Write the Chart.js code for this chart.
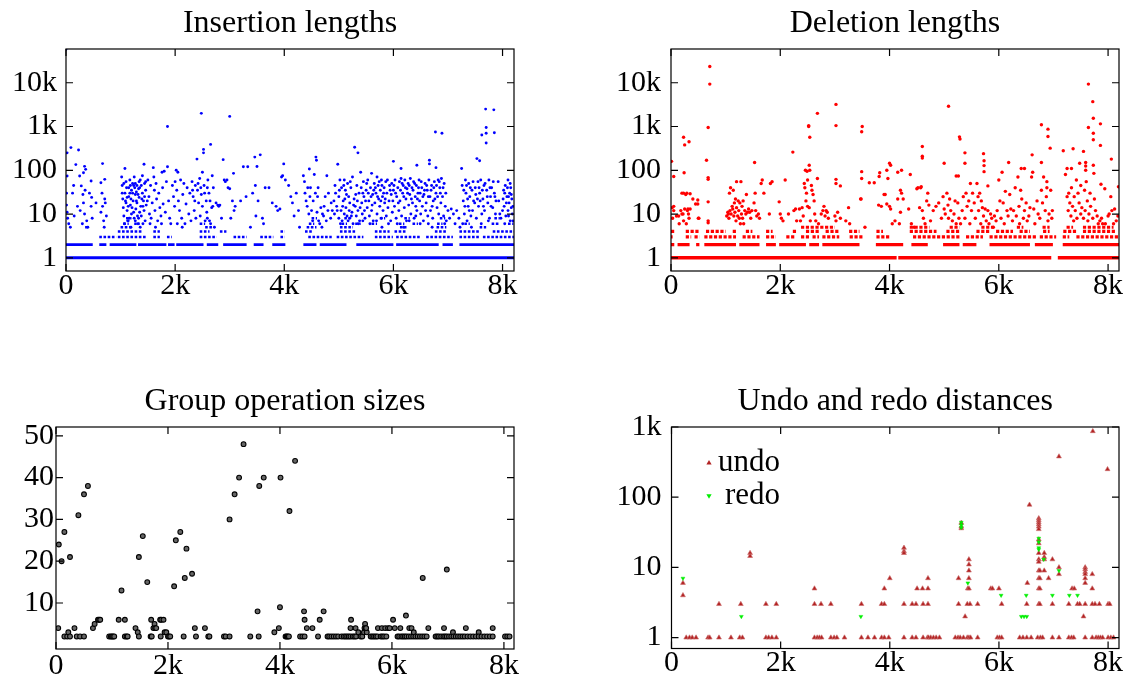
<!DOCTYPE html>
<html>
<head>
<meta charset="utf-8">
<script src="https://cdn.jsdelivr.net/npm/chart.js@4.4.1/dist/chart.umd.min.js"></script>
<style>
  body { margin: 0; background: #fff; width: 1129px; height: 678px; overflow: hidden; position: relative; }
  .box { position: absolute; }
</style>
</head>
<body>
<div class="box" style="left:0;top:0;width:560px;height:320px"><canvas id="ins"></canvas></div>
<div class="box" style="left:600px;top:0;width:529px;height:320px"><canvas id="del"></canvas></div>
<div class="box" style="left:0;top:378px;width:560px;height:300px"><canvas id="grp"></canvas></div>
<div class="box" style="left:600px;top:378px;width:529px;height:300px"><canvas id="undo"></canvas></div>
<script>
const SERIF = "'Liberation Serif', 'Times New Roman', serif";

// x axis is in thousands of operations
const xTickValues = [0, 2, 4, 6, 8];
const xTickLabels = ['0', '2k', '4k', '6k', '8k'];
const lenTickValues = [1, 10, 100, 1000, 10000];
const lenTickLabels = ['1', '10', '100', '1k', '10k'];
const groupTickValues = [10, 20, 30, 40, 50];
const distTickValues = [1, 10, 100, 1000];
const distTickLabels = ['1', '10', '100', '1k'];

// dense rows of small values, as [from, to] ranges
const insRowLevels = [1, 2, 3, 4, 5, 6, 8];
const insRowSpans = [
  [[0, 8.21]],
  [[0,0.49],[0.61,0.74],[0.8,1.29],[1.32,1.84],[1.87,1.99],[2.02,2.52],[2.58,2.79],[2.88,3.31],[3.44,3.62],[3.78,4.02],[4.35,4.59],[4.65,5.14],[5.32,6.0],[6.05,6.83],[6.9,7.09],[7.21,8.21]],
  [[0.61,0.92],[0.95,1.47],[1.6,1.72],[1.85,1.94],[2.45,2.76],[3.07,3.31],[3.56,3.8],[3.93,4.01],[4.44,4.87],[4.96,5.45],[5.66,5.99],[6.05,6.51],[6.6,7.09],[7.21,7.58],[7.64,8.21]],
  [[0.95,1.41],[1.6,1.72],[2.45,2.63],[2.82,2.94],[3.93,4.01],[4.38,4.53],[5.02,5.32],[5.66,5.93],[6.02,6.24],[6.76,6.97],[7.21,7.58],[7.82,8.21]],
  [[0.35,0.4],[1.0,1.2],[2.55,2.7],[4.41,4.59],[5.02,5.26],[6.12,6.24],[6.79,6.97],[7.58,7.7]],
  [[1.05,1.15],[1.25,1.35],[2.45,2.55],[4.45,4.55],[5.05,5.15],[5.3,5.4],[5.6,5.7],[6.1,6.2],[6.35,6.45],[6.8,6.9],[7.3,7.4],[7.8,7.95],[8.1,8.2]],
  [[1.1,1.2],[4.5,4.6],[5.1,5.2],[5.75,5.85],[6.2,6.3],[6.85,6.95],[7.85,7.95]]
];
const insPoints = [
  [0,58000],[0.02,250],[0.09,330],[0.23,290],[0.18,135],[0.02,74],[0.01,30],[0.01,16],[0.02,11],[0.03,8],[0.05,6],[0.12,30],[0.15,9],[0.21,15],[0.25,74],[0.28,44],[0.32,88],[0.34,123],[0.36,105],[0.31,28],[0.32,18],[0.34,10],[0.3,6],[0.38,7],[0.4,5],[0.46,57],[0.47,24],[0.46,15],[0.48,8],[0.55,18],[0.64,52],[0.67,142],[0.71,62],[0.71,22],[0.67,15],[0.64,11],[0.74,9],[0.69,7],[0.7,5],[0.66,30],[0.72,18],[0.08,5],[0.14,45],[0.26,12],[0.35,35],[0.43,30],
  [1.02,70],[1.03,45],[1.04,22],[1.05,14],[1.06,9],[1.08,110],[1.08,30],[1.1,55],[1.1,18],[1.12,12],[1.13,7],[1.15,40],[1.15,25],[1.17,60],[1.18,16],[1.2,10],[1.2,35],[1.22,50],[1.23,20],[1.25,8],[1.25,70],[1.27,28],[1.28,13],[1.3,45],[1.3,18],[1.32,6],[1.33,38],[1.34,24],[1.35,11],[1.36,60],[1.37,15],[1.38,9],[1.4,30],[1.4,75],[1.42,20],[1.43,12],[1.43,137],[1.44,50],[1.45,7],[1.46,35],[1.47,16],[1.12,24],[1.18,45],[1.26,40],[1.31,9],[1.39,22],[1.21,14],[1.16,8],[1.34,55],[1.29,32],[1.24,11],[1.07,6],[1.14,7],[1.19,5],[1.27,7],[1.33,8],[1.41,6],[1.36,5],
  [1.03,30],[1.06,50],[1.09,20],[1.11,40],[1.14,15],[1.17,30],[1.19,22],[1.22,30],[1.24,45],[1.27,50],[1.29,20],[1.32,28],[1.35,40],[1.38,45],[1.41,15],[1.44,25],[1.46,55],[1.49,20],
  [1.5,60],[1.52,25],[1.53,10],[1.55,45],[1.56,8],[1.58,18],[1.6,115],[1.61,70],[1.62,35],[1.63,12],[1.65,50],[1.66,22],[1.68,7],[1.7,30],[1.72,14],[1.74,9],[1.76,90],[1.77,40],[1.78,17],[1.8,95],[1.82,11],[1.84,55],[1.54,6],[1.64,5],[1.75,6],
  [1.86,1000],[1.86,120],[1.88,20],[1.9,8],[1.92,6],[1.95,45],[1.97,25],[1.99,15],[2.0,55],[2.02,100],[2.03,35],[2.05,90],[2.06,20],[2.08,12],[2.1,60],[2.12,8],[2.14,28],[2.16,50],[2.18,6],[2.2,17],[2.22,40],[2.25,10],[2.27,30],[2.29,7],[2.04,6],[2.13,5],
  [2.31,55],[2.33,25],[2.35,12],[2.37,45],[2.38,8],[2.4,180],[2.41,35],[2.43,18],[2.45,65],[2.46,9],[2.48,2000],[2.48,28],[2.5,90],[2.5,15],[2.52,300],[2.52,250],[2.53,45],[2.55,7],[2.57,20],[2.58,11],[2.6,60],[2.62,30],[2.65,390],[2.65,6],[2.67,14],[2.68,75],[2.59,8],[2.63,7],
  [2.32,35],[2.36,20],[2.42,50],[2.47,40],[2.54,30],[2.59,40],[2.64,20],[2.69,15],
  [2.7,40],[2.72,5],[2.75,18],[2.78,16],[2.8,15],[2.82,16],[2.85,8],[2.88,175],[2.9,60],[2.92,55],[2.95,60],[2.97,40],[3.0,1700],[3.0,38],[3.02,8],[3.05,20],[3.07,85],[3.08,12],[3.1,15],
  [3.2,20],[3.25,120],[3.3,25],[3.33,120],[3.38,5],[3.42,30],[3.46,200],[3.47,45],[3.48,9],[3.5,122],[3.52,20],[3.56,225],[3.6,8],[3.62,6],
  [3.65,40],[3.72,40],[3.78,18],[3.85,15],[3.88,12],[3.92,13],[3.95,70],[3.97,75],[3.99,140],[4.02,60],[4.08,45],[4.12,25],[4.15,18],[4.18,9],[4.22,30],[4.26,12],[4.28,5],
  [4.35,75],[4.37,55],[4.4,20],[4.42,15],[4.45,10],[4.46,107],[4.48,40],[4.5,12],[4.52,7],[4.55,80],[4.57,30],[4.58,200],[4.59,170],[4.6,11],[4.62,40],[4.65,6],[4.67,14],[4.7,10],[4.72,9],[4.75,25],[4.78,75],[4.8,12],[4.85,8],[4.88,12],[4.63,7],[4.69,5],[4.77,7],
  [4.38,30],[4.43,40],[4.47,25],[4.53,20],[4.61,25],[4.73,15],[4.81,30],[4.86,18],
  [4.92,10],[4.94,30],[4.96,15],[4.98,137],[5.0,25],[5.0,8],[5.02,60],[5.04,12],[5.05,40],[5.06,7],[5.08,20],[5.1,60],[5.1,10],[5.12,35],[5.13,14],[5.15,9],[5.16,50],[5.18,25],[5.2,8],[5.2,18],[5.22,40],[5.24,11],[5.25,70],[5.26,6],[5.28,22],[5.29,335],[5.3,15],[5.32,9],[5.33,45],[5.35,250],[5.35,12],[5.37,30],[5.38,7],[5.4,90],[5.42,18],[5.43,10],[5.45,55],[5.46,25],[5.48,8],[5.5,35],[5.03,6],[5.17,7],[5.23,9],[5.36,6],[5.44,7],
  [4.91,20],[4.93,45],[4.97,12],[5.01,35],[5.07,15],[5.09,45],[5.11,22],[5.14,28],[5.19,12],[5.21,55],[5.27,16],[5.31,28],[5.34,20],[5.39,14],[5.41,40],[5.44,30],[5.47,12],[5.49,20],
  [5.52,14],[5.53,60],[5.55,20],[5.56,9],[5.58,40],[5.6,12],[5.6,85],[5.62,28],[5.63,7],[5.65,50],[5.66,18],[5.68,30],[5.7,10],[5.7,70],[5.72,45],[5.73,22],[5.75,15],[5.76,35],[5.78,60],[5.78,8],[5.8,25],[5.81,12],[5.83,40],[5.84,18],[5.86,55],[5.87,9],[5.88,30],[5.9,14],[5.92,20],[5.93,45],[5.95,7],[5.96,28],[5.98,11],[5.57,6],[5.69,7],[5.79,5],[5.91,6],
  [5.51,50],[5.54,30],[5.59,25],[5.61,16],[5.64,35],[5.67,40],[5.71,25],[5.74,55],[5.77,20],[5.79,45],[5.82,30],[5.85,22],[5.89,60],[5.94,35],[5.97,50],[5.99,20],
  [6.0,160],[6.0,35],[6.02,15],[6.03,60],[6.05,8],[6.06,25],[6.08,40],[6.1,12],[6.11,55],[6.12,20],[6.14,110],[6.14,65],[6.15,9],[6.17,30],[6.18,45],[6.2,14],[6.21,60],[6.23,22],[6.24,7],[6.25,38],[6.27,50],[6.28,16],[6.3,28],[6.31,65],[6.32,10],[6.34,40],[6.35,18],[6.37,55],[6.38,8],[6.4,25],[6.42,45],[6.43,130],[6.43,12],[6.45,30],[6.47,60],[6.48,20],[6.5,10],[6.52,40],[6.53,15],[6.55,7],[6.56,28],[6.58,50],[6.07,6],[6.19,5],[6.29,7],[6.41,9],[6.49,6],
  [6.01,45],[6.04,30],[6.09,18],[6.13,35],[6.16,50],[6.19,25],[6.22,40],[6.26,30],[6.29,45],[6.33,22],[6.36,35],[6.39,50],[6.41,15],[6.44,22],[6.46,40],[6.49,30],[6.51,55],[6.54,25],[6.57,35],[6.59,12],
  [6.6,18],[6.62,35],[6.63,9],[6.65,60],[6.66,170],[6.66,140],[6.67,25],[6.68,12],[6.7,45],[6.72,8],[6.73,20],[6.75,55],[6.77,750],[6.78,115],[6.78,30],[6.8,14],[6.82,60],[6.83,10],[6.85,40],[6.87,18],[6.88,65],[6.89,700],[6.9,25],[6.92,9],[6.93,50],[6.95,15],[6.97,7],[6.64,6],[6.71,5],[6.94,6],
  [6.61,45],[6.64,25],[6.69,35],[6.71,15],[6.74,40],[6.76,22],[6.79,45],[6.81,25],[6.84,55],[6.86,30],[6.91,40],[6.96,30],
  [7.0,12],[7.03,8],[7.06,13],[7.1,10],[7.13,6],[7.16,12],[7.2,8],[7.22,5],
  [7.25,110],[7.26,45],[7.28,20],[7.3,10],[7.32,60],[7.33,30],[7.35,7],[7.37,15],[7.38,50],[7.4,25],[7.42,9],[7.44,35],[7.45,12],[7.47,20],[7.5,40],[7.52,8],[7.53,185],[7.55,55],[7.56,15],[7.58,165],[7.58,30],[7.6,60],[7.62,640],[7.62,10],[7.64,22],[7.66,45],[7.67,12],[7.69,2500],[7.7,950],[7.7,700],[7.7,420],[7.71,35],[7.73,18],[7.75,60],[7.76,8],[7.78,25],[7.8,40],[7.82,14],[7.84,2400],[7.85,720],[7.85,30],[7.87,10],[7.88,20],[7.27,6],[7.43,5],[7.61,6],[7.74,7],
  [7.29,35],[7.31,15],[7.34,45],[7.36,22],[7.39,12],[7.41,40],[7.46,55],[7.49,18],[7.51,28],[7.54,22],[7.57,40],[7.59,20],[7.63,35],[7.65,15],[7.68,50],[7.72,25],[7.77,40],[7.79,15],[7.83,55],[7.86,25],
  [7.92,55],[7.93,20],[7.95,10],[7.97,8],[8.0,12],[8.02,35],[8.03,15],[8.05,45],[8.06,9],[8.08,25],[8.1,60],[8.1,12],[8.12,18],[8.13,30],[8.14,7],[8.15,40],[8.16,14],[8.17,22],[8.18,10],[8.04,6],[8.11,9],[8.19,7],
  [8.01,22],[8.04,30],[8.07,18],[8.09,40],[8.11,25],[8.14,50],[8.16,28],[8.19,15]
];

const delRowLevels = [1, 2, 3, 4, 5];
const delRowSpans = [
  [[0,4.13],[4.16,6.96],[7.08,8.2]],
  [[0,0.06],[0.12,0.34],[0.46,0.52],[0.61,1.19],[1.25,1.62],[1.74,1.92],[1.98,2.47],[2.53,2.71],[2.77,3.45],[3.75,4.25],[4.4,4.7],[4.98,5.28],[5.34,5.59],[5.83,6.57],[6.66,6.99],[7.17,8.2]],
  [[0,0.03],[0.27,0.37],[0.43,0.52],[0.61,1.19],[1.31,1.62],[1.74,1.92],[2.11,2.26],[2.38,2.53],[2.59,2.71],[2.77,3.08],[3.27,3.51],[3.76,4.0],[4.43,5.28],[5.4,5.71],[5.83,6.69],[6.75,7.05],[7.17,7.29],[7.42,8.2]],
  [[0,0.06],[0.27,0.52],[0.64,1.0],[1.13,1.19],[1.37,1.49],[1.74,1.86],[2.23,2.29],[2.47,2.71],[2.83,3.08],[3.26,3.45],[3.76,3.88],[4.37,4.86],[5.04,5.28],[5.59,5.83],[5.95,6.26],[6.38,6.57],[6.81,6.93],[7.18,7.42],[7.54,8.15]],
  [[2.38,3.0],[4.37,4.73],[5.1,5.28],[5.68,5.9],[6.33,6.45],[6.8,6.93],[7.24,7.36],[7.54,8.1]]
];
const delPoints = [
  [0.71,23500],[0.71,9300],[0.68,950],[0.65,170],[0.68,68],[0.68,62],[0.68,19],[0.68,7],[0.68,6.3],[0.23,570],[0.25,380],[0.33,450],[0.24,88],[0.01,160],[0.05,72],[0.05,15],[0.03,8],[0.23,30],[0.29,30],[0.35,29],[0.31,13],[0.35,13],[0.32,10],[0.49,21],[0.49,17],[0.23,7],[0.2,10],[0.14,9],[0.51,8],
  [1.53,150],[2.23,260],[2.09,60],[1.65,50],[1.67,60],[1.54,30],[2.52,1050],[2.52,1000],[2.54,570],[2.68,2000],[2.53,130],[2.54,100],[2.46,100],[2.49,95],[2.68,65],
  [3.02,3200],[3.02,1050],[3.02,62],[3.02,50],[3.1,44],[3.5,1000],[3.49,760],[3.49,93],[3.49,65],[3.47,22],[3.63,52],[3.72,52],[3.82,88],[3.81,72],[3.92,28],[3.95,100],[3.97,65],[4.0,145],[4.02,130],[4.15,90],[4.22,100],[4.2,35],[4.38,80],[4.6,350],[4.6,210],[4.6,190],[4.57,40],
  [5.0,145],[5.08,2900],[5.28,580],[5.29,520],[5.22,74],[5.26,74],[5.38,250],[5.38,145],[5.72,240],[5.73,165],[5.73,128],[5.73,93],[5.8,44],[6.18,150],[6.41,110],[6.47,110],[6.61,225],[6.78,1100],[6.9,870],[6.9,590],[6.94,320],[6.78,150],[6.88,55],
  [7.18,280],[7.36,310],[7.55,270],[7.25,110],[7.33,110],[7.64,9300],[7.72,3700],[7.73,1550],[7.64,950],[7.73,700],[7.73,500],[7.86,1150],[7.86,370],[7.73,130],[7.74,85],[8.06,180],[8.19,42],[7.94,38],[7.87,48],[7.59,150],[7.59,125],[7.59,100],[7.48,145],
  [0.02,14],[0.05,12],[0.1,9],[0.15,6],[0.18,12],[0.22,10],[0.25,13],[0.28,6],[0.3,12],[0.33,8],[0.4,22],[0.45,17],[0.5,8],[0.2,30],[0.27,28],
  [1.02,9],[1.04,11],[1.05,10],[1.06,8],[1.07,30],[1.08,12],[1.09,40],[1.1,10],[1.12,15],[1.13,13],[1.14,35],[1.15,9],[1.16,18],[1.17,11],[1.18,22],[1.19,7],[1.2,14],[1.2,55],[1.22,9],[1.23,20],[1.24,12],[1.25,8],[1.26,18],[1.27,6],[1.28,55],[1.29,10],[1.3,15],[1.31,8],[1.32,20],[1.33,6],[1.35,12],[1.37,10],[1.38,28],[1.4,11],[1.42,13],[1.44,11],[1.46,8],[1.48,12],
  [1.52,18],[1.55,12],[1.57,9],[1.6,10],[1.62,8],[1.7,30],[1.8,10],[1.82,50],[1.85,55],[1.98,19],[2.0,10],[2.02,8],[2.05,7],[2.15,10],[2.25,12],[2.28,13],[2.3,7],[2.35,13],[2.37,7],
  [2.4,14],[2.42,9],[2.44,50],[2.45,40],[2.47,20],[2.48,30],[2.5,15],[2.5,60],[2.53,14],[2.55,7],[2.57,45],[2.58,35],[2.6,28],[2.62,20],[2.63,10],[2.65,7],[2.7,6],[2.75,10],[2.78,12],[2.8,15],[2.82,9],[2.84,12],[2.86,11],[2.88,8],[3.0,9],[3.02,7],[3.05,11],[3.1,8],[3.2,7],[3.25,14],[3.27,6],
  [3.48,22],[3.55,5],[3.8,16],[3.85,15],[3.9,28],[3.95,17],[4.0,15],[4.02,13],[4.05,6],[4.1,7],[4.15,22],[4.18,6],[4.2,11],[4.22,30],[4.25,22],[4.35,13],[4.4,6],
  [4.45,5],[4.5,38],[4.52,40],[4.55,14],[4.58,42],[4.6,12],[4.62,8],[4.65,6],[4.68,20],[4.7,30],[4.72,16],[4.75,7],[4.8,12],[4.85,15],[4.9,18],[4.95,8],[4.98,25],
  [5.0,13],[5.02,10],[5.05,30],[5.07,16],[5.08,8],[5.1,22],[5.12,12],[5.15,7],[5.18,10],[5.2,20],[5.22,6],[5.25,18],[5.27,8],[5.3,6],[5.33,12],[5.35,25],[5.38,8],[5.4,30],[5.42,15],[5.45,20],[5.47,6],[5.48,50],[5.5,12],
  [5.52,30],[5.55,18],[5.57,8],[5.6,50],[5.62,25],[5.63,12],[5.65,30],[5.67,6],[5.68,20],[5.7,14],[5.72,9],[5.75,13],[5.77,7],[5.8,12],[5.82,6],[5.85,10],[5.87,8],[5.9,5],[5.92,9],[5.95,7],[5.97,12],
  [6.0,60],[6.02,20],[6.04,8],[6.06,90],[6.08,18],[6.1,6],[6.12,33],[6.15,12],[6.17,9],[6.2,28],[6.22,13],[6.25,7],[6.27,12],[6.3,40],[6.32,9],[6.35,70],[6.37,15],[6.38,6],[6.4,35],[6.42,22],[6.45,8],[6.47,12],[6.5,18],[6.52,7],[6.55,9],[6.57,14],[6.6,70],
  [6.62,90],[6.64,13],[6.66,6],[6.7,20],[6.72,10],[6.75,8],[6.78,35],[6.8,18],[6.82,70],[6.85,12],[6.87,25],[6.88,40],[6.9,7],[6.92,10],[6.95,35],[6.97,8],[6.98,12],
  [7.22,80],[7.25,25],[7.27,12],[7.28,30],[7.3,18],[7.32,9],[7.33,40],[7.35,15],[7.37,7],[7.38,25],[7.4,12],[7.42,60],[7.43,8],[7.45,30],[7.47,18],[7.5,10],[7.5,45],[7.52,14],[7.55,8],[7.57,35],[7.58,12],[7.6,55],[7.62,20],[7.63,7],[7.65,10],[7.67,30],[7.68,15],
  [7.72,8],[7.75,22],[7.77,12],[7.8,9],[7.82,6],[7.85,7],[7.88,8],[7.9,6],[7.95,6],[8.0,9],[8.02,10],[8.05,25],[8.07,12],[8.1,6],[8.12,13],[8.15,7],[8.18,9]
];

const groupPoints = [
  [0.04,4],[0.05,24],[0.1,20],[0.15,27],[0.25,21],[0.15,2],[0.2,2],[0.22,3],[0.25,2],[0.33,4],[0.37,2],[0.4,31],[0.43,2],[0.5,36],[0.5,2],[0.57,38],[0.66,4],[0.69,5],[0.75,6],[0.77,6],[0.79,6],
  [0.95,2],[0.98,2],[1.0,2],[1.02,2],[1.04,2],[1.12,6],[1.17,13],[1.23,6],[1.23,2],[1.26,2],[1.28,2],[1.42,4],[1.46,3],[1.48,21],[1.48,2],[1.55,26],[1.63,15],[1.69,2],[1.71,2],[1.7,6],[1.74,4],[1.76,5],[1.77,4],[1.79,4],[1.86,6],[1.88,6],[1.92,6],[1.87,2],[1.94,3],[1.97,3],
  [2.0,2],[2.02,2],[2.04,2],[2.11,14],[2.14,25],[2.22,27],[2.28,2],[2.3,16],[2.33,23],[2.43,17],[2.48,4],[2.5,2],[2.66,4],[2.72,2],[2.74,2],[3.0,2],[3.03,2],[3.1,2],[3.1,30],[3.19,36],[3.27,40],[3.35,48],[3.47,2],[3.6,8],[3.62,2],[3.63,38],[3.71,40],[3.9,3],[3.98,4],
  [4.0,9],[4.01,40],[4.1,2],[4.12,2],[4.14,2],[4.16,2],[4.17,32],[4.27,44],[4.36,2],[4.4,2],[4.44,2],[4.43,8],[4.44,6],[4.48,4],[4.58,4],[4.68,2],[4.71,6],[4.78,8],[4.85,2],[4.88,2],[4.92,2],[4.96,2],
  [5.0,2],[5.04,2],[5.1,2],[5.14,2],[5.17,2],[5.2,2],[5.23,2],[5.26,4],[5.27,6],[5.26,2],[5.3,2],[5.33,2],[5.35,4],[5.36,2],[5.4,3],[5.44,2],[5.47,2],[5.5,3],[5.51,4],[5.52,5],[5.53,4],[5.55,3],[5.54,4],[5.62,2],[5.65,2],[5.68,2],[5.71,2],[5.74,2],[5.75,4],[5.8,2],[5.82,4],[5.83,2],[5.86,2],[5.88,4],[5.9,2],[5.93,4],[5.96,4],
  [6.02,6],[6.05,4],[6.1,2],[6.13,2],[6.15,4],[6.17,2],[6.2,2],[6.23,2],[6.25,7],[6.26,2],[6.3,2],[6.31,4],[6.34,2],[6.35,4],[6.38,2],[6.39,3],[6.42,2],[6.46,2],[6.5,2],[6.54,2],[6.55,16],[6.58,2],[6.62,2],[6.65,4],[6.78,2],[6.81,2],[6.84,2],[6.88,2],[6.92,2],[6.93,4],[6.95,2],[6.98,18],[6.98,2],
  [7.02,2],[7.06,2],[7.09,3],[7.1,2],[7.14,2],[7.18,2],[7.22,2],[7.26,2],[7.3,2],[7.32,4],[7.35,2],[7.4,2],[7.45,2],[7.5,2],[7.55,3],[7.55,2],[7.6,2],[7.65,2],[7.7,2],[7.75,2],[7.8,4],[7.8,2],[8.02,2],[8.06,2],[8.1,2]
];

const undoPoints = [
  [0.21,6],[0.21,4],[0.27,1],[0.33,1],[0.38,1],[0.45,1],[0.67,1],[0.7,1],[0.87,3],[0.87,1],[1.09,1],[1.27,3],[1.25,1],[1.3,1],[1.44,16],[1.44,14.5],[1.73,3],[1.73,1],[1.78,1],[1.84,1],[1.92,3],[1.92,1],
  [2.62,5],[2.62,3],[2.62,1],[2.67,1],[2.71,1],[2.75,1],[2.74,3],[2.92,3],[2.92,1],[2.98,1],[3.03,1],[3.17,1],[3.48,3],[3.48,1],[3.6,1],[3.72,1],[3.85,3],[3.9,3],[3.85,1],[3.9,1],[3.9,5],[3.98,1],[4.0,7],
  [4.26,19],[4.26,17],[4.26,16],[4.26,3],[4.26,1],[4.41,3],[4.48,3],[4.41,1],[4.48,1],[4.5,5],[4.6,5],[4.61,3],[4.61,1],[4.69,1],[4.7,7],[4.7,5],[4.7,3],[4.71,1],[4.75,1],[4.8,1],[4.85,1],[4.91,1],
  [5.2,1],[5.25,1],[5.29,1],[5.26,7],[5.26,3],[5.31,43],[5.31,38],[5.31,36],[5.35,1],[5.38,2],[5.43,5],[5.45,5],[5.45,13],[5.45,11],[5.45,9],[5.45,7],[5.42,3],[5.47,3],[5.42,1],[5.45,1],[5.48,1],[5.61,3],[5.61,1],[5.85,5],[5.88,5],
  [6.0,5],[5.97,1],[6.01,1],[6.05,1],[6.05,3],[6.38,1],[6.44,1],[6.51,1],[6.51,3],[6.52,6],[6.56,78],[6.59,1],
  [6.73,50],[6.73,47],[6.73,44],[6.73,41],[6.73,38],[6.73,35],[6.73,25],[6.73,22],[6.73,16],[6.73,13],[6.73,12],[6.73,9],[6.73,7],[6.73,5],[6.73,3],[6.71,1],[6.76,1],[6.75,9],[6.75,7],[6.75,5],[6.75,3],[6.83,16],[6.83,14],[6.83,13],[6.83,9],[6.8,1],[6.91,7],[6.98,13],[6.98,3],[6.98,1],
  [7.1,380],[7.1,10],[7.1,8],[7.1,1],[7.28,3],[7.34,5],[7.38,5],[7.28,1],[7.33,1],[7.37,1],[7.44,3],[7.48,3],[7.55,2],[7.58,10],[7.58,9.4],[7.58,8.6],[7.58,8],[7.58,7],[7.58,6],[7.58,3],[7.58,1],
  [7.71,8],[7.71,5],[7.71,3],[7.71,1],[7.72,870],[7.76,3],[7.78,1],[7.82,1],[7.84,3],[7.86,1],[7.9,1],[7.99,250],[8.0,3],[8.03,3],[8.0,1],[8.05,1],[8.1,1]
];
const redoPoints = [
  [0.21,7],[1.28,2],[3.47,2],[5.31,44],[5.31,40],[5.31,37],[5.43,6],[6.04,4],[6.41,2],[6.46,2],[6.51,2],[6.5,4],[6.73,26],[6.73,23],[6.73,19],[6.73,18],[6.82,13],[6.98,4],[7.1,9],[7.29,4],[7.44,4]
];

const toXY = pts => pts.map(p => ({ x: p[0], y: p[1] }));

function spanData(spans, level) {
  const out = [];
  spans.forEach(s => {
    out.push({ x: s[0], y: level }, { x: s[1], y: level }, { x: s[1], y: null });
  });
  return out;
}

function rowSets(levels, spans, color, width) {
  return levels.map((lv, i) => ({
    data: spanData(spans[i], lv),
    showLine: true,
    spanGaps: false,
    borderColor: color,
    borderWidth: i === 0 ? width + 0.4 : width,
    borderDash: i < 2 ? [] : [width, 1.6],
    pointRadius: 0,
    order: 2
  }));
}

// gnuplot style frame with inward ticks on all four sides
const frameTicks = {
  id: 'frameTicks',
  afterDatasetsDraw(chart) {
    const { ctx, chartArea: a, scales } = chart;
    const len = 7;
    ctx.save();
    ctx.strokeStyle = '#000';
    ctx.lineWidth = 1.2;
    ctx.beginPath();
    scales.x.ticks.forEach(t => {
      const px = scales.x.getPixelForValue(t.value);
      ctx.moveTo(px, a.bottom); ctx.lineTo(px, a.bottom - len);
      ctx.moveTo(px, a.top); ctx.lineTo(px, a.top + len);
    });
    scales.y.ticks.forEach(t => {
      const py = scales.y.getPixelForValue(t.value);
      ctx.moveTo(a.left, py); ctx.lineTo(a.left + len, py);
      ctx.moveTo(a.right, py); ctx.lineTo(a.right - len, py);
    });
    ctx.stroke();
    ctx.strokeRect(a.left, a.top, a.right - a.left, a.bottom - a.top);
    ctx.restore();
  }
};

function triangle(ctx, x, y, r, down) {
  const s = down ? -1 : 1;
  ctx.beginPath();
  ctx.moveTo(x, y - s * r);
  ctx.lineTo(x - r * 0.87, y + s * r * 0.5);
  ctx.lineTo(x + r * 0.87, y + s * r * 0.5);
  ctx.closePath();
  ctx.fill();
}

const undoLegend = {
  id: 'undoLegend',
  afterDraw(chart) {
    const { ctx, chartArea: a } = chart;
    ctx.save();
    ctx.font = '31px ' + SERIF;
    ctx.textAlign = 'right';
    ctx.textBaseline = 'alphabetic';
    chart.data.datasets.forEach((ds, i) => {
      const my = a.top + 36 + i * 32.7;
      ctx.fillStyle = ds.backgroundColor;
      triangle(ctx, a.left + 37.5, my, 3, ds.rotation === 180);
      ctx.fillStyle = '#000';
      ctx.fillText(ds.label, a.left + 108.5, my + 8.3);
    });
    ctx.restore();
  }
};

function xAxis(max, pad, height) {
  return {
    type: 'linear', min: 0, max: max,
    grid: { display: false, drawTicks: false }, border: { display: false },
    afterBuildTicks: s => { s.ticks = xTickValues.map(v => ({ value: v })); },
    afterFit: s => { s.height = height; },
    ticks: {
      autoSkip: false, maxRotation: 0, padding: pad, color: '#000',
      font: { family: SERIF, size: 30, lineHeight: 1 },
      callback: (v, i) => xTickLabels[i]
    }
  };
}

function yAxis(type, min, max, values, labels, pad, width) {
  return {
    type: type, min: min, max: max,
    grid: { display: false, drawTicks: false }, border: { display: false },
    afterBuildTicks: s => { s.ticks = values.map(v => ({ value: v })); },
    afterFit: s => { s.width = width; },
    ticks: {
      autoSkip: false, padding: pad, color: '#000',
      font: { family: SERIF, size: 30, lineHeight: 1 },
      callback: (v, i) => labels[i]
    }
  };
}

function makeChart(id, title, datasets, xs, ys, rightPad, extra) {
  return new Chart(document.getElementById(id), {
    type: 'scatter',
    data: { datasets: datasets },
    options: {
      responsive: true,
      maintainAspectRatio: false,
      animation: false,
      events: [],
      layout: { padding: { left: 0, right: rightPad, top: 0, bottom: 0 } },
      scales: { x: xs, y: ys },
      plugins: {
        legend: { display: false },
        tooltip: { enabled: false },
        title: {
          display: true, text: title, color: '#000', fullSize: false,
          font: { family: SERIF, size: 32, weight: 'normal', lineHeight: 1.2 },
          padding: { top: 4, bottom: 6.6 }
        }
      }
    },
    plugins: [frameTicks].concat(extra || [])
  });
}

makeChart('ins', 'Insertion lengths',
  rowSets(insRowLevels, insRowSpans, '#0000ff', 2.6).concat([{
    data: toXY(insPoints), pointRadius: 1.45, backgroundColor: '#0000ff', borderWidth: 0, order: 1
  }]),
  xAxis(8.21, 0, 49),
  yAxis('logarithmic', 0.5, 59000, lenTickValues, lenTickLabels, 9, 66),
  46);

makeChart('del', 'Deletion lengths',
  rowSets(delRowLevels, delRowSpans, '#ff0000', 3.2).concat([{
    data: toXY(delPoints), pointRadius: 1.7, backgroundColor: '#ff0000', borderWidth: 0, order: 1
  }]),
  xAxis(8.2, 0, 49),
  yAxis('logarithmic', 0.5, 59000, lenTickValues, lenTickLabels, 10, 71),
  10);

makeChart('grp', 'Group operation sizes',
  [{
    data: toXY(groupPoints), pointRadius: 2.4, backgroundColor: '#666',
    borderColor: '#000', borderWidth: 1.1
  }],
  xAxis(8.18, 2, 29),
  yAxis('linear', -1, 52.1, groupTickValues, groupTickValues.map(String), 2, 56),
  46);

makeChart('undo', 'Undo and redo distances',
  [{
    label: 'undo', data: toXY(undoPoints), pointStyle: 'triangle', pointRadius: 2.8,
    backgroundColor: '#b22222', borderColor: 'rgba(205,110,110,0.8)', borderWidth: 0.8, order: 2
  }, {
    label: 'redo', data: toXY(redoPoints), pointStyle: 'triangle', rotation: 180, pointRadius: 2.2,
    backgroundColor: '#00ee00', borderColor: '#00ee00', borderWidth: 0.5, order: 1
  }],
  xAxis(8.2, 0, 29.5),
  yAxis('logarithmic', 0.72, 1000, distTickValues, distTickLabels, 10, 71.5),
  10, [undoLegend]);
</script>
</body>
</html>
